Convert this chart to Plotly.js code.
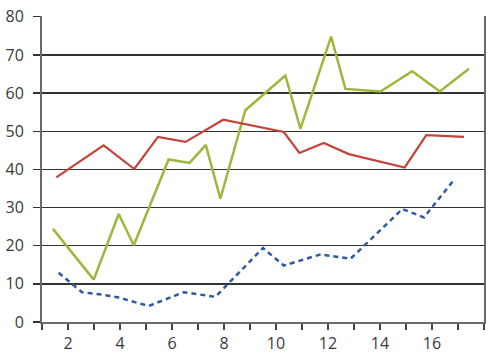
<!DOCTYPE html>
<html>
<head>
<meta charset="utf-8">
<script src="https://cdn.plot.ly/plotly-3.0.1.min.js"></script>
<style>html,body{margin:0;padding:0;background:#fff;}#chart{width:500px;height:360px;}</style>
</head>
<body>
<div id="chart"></div>
<script>
const greenX = [1.42, 2.99, 3.95, 4.53, 5.87, 6.68, 7.30, 7.86, 8.82, 10.36, 10.94, 12.12, 12.67, 14.02, 15.24, 16.3, 17.42];
const greenY = [24.4, 11.1, 28.3, 20.1, 42.6, 41.7, 46.4, 32.3, 55.5, 64.6, 50.7, 74.8, 61.1, 60.4, 65.7, 60.4, 66.4];

const redX = [1.55, 3.37, 4.55, 5.46, 6.52, 7.97, 10.3, 10.9, 11.84, 12.8, 14.95, 15.78, 17.23];
const redY = [37.9, 46.3, 40.1, 48.5, 47.2, 53.0, 49.8, 44.3, 46.9, 44.0, 40.5, 49.0, 48.5];

const blueX = [1.64, 2.54, 3.31, 3.95, 5.10, 6.45, 7.67, 9.5, 10.3, 11.71, 12.87, 14.86, 15.69, 16.84];
const blueY = [12.9, 7.8, 7.2, 6.4, 4.2, 7.8, 6.6, 19.4, 14.8, 17.7, 16.6, 29.6, 27.4, 37.2];

const xTickVals = [1, 2, 3, 4, 5, 6, 7, 8, 9, 10, 11, 12, 13, 14, 15, 16, 17, 18];
const xTickText = ["", "2", "", "4", "", "6", "", "8", "", "10", "", "12", "", "14", "", "16", "", ""];
const yTickVals = [0, 10, 20, 30, 40, 50, 60, 70, 80];
const yTickText = ["0", "10", "20", "30", "40", "50", "60", "70", "80"];

const traces = [
  {x: greenX, y: greenY, mode: 'lines', line: {color: '#9bb83a', width: 2.5}, hoverinfo: 'skip'},
  {x: redX, y: redY, mode: 'lines', line: {color: '#c4433a', width: 2.2}, hoverinfo: 'skip'},
  {x: blueX, y: blueY, mode: 'lines', line: {color: '#2f5b9e', width: 2.5, dash: '5px,4px'}, hoverinfo: 'skip'}
];

const layout = {
  width: 500, height: 360,
  margin: {l: 42, r: 16, t: 16, b: 38},
  showlegend: false,
  paper_bgcolor: '#fff', plot_bgcolor: '#fff',
  font: {family: 'Open Sans, sans-serif', size: 16, color: '#3a3a3a'},
  xaxis: {
    range: [1, 18], tickmode: 'array', tickvals: xTickVals, ticktext: xTickText,
    showgrid: false, zeroline: false, showline: true, linecolor: '#6a6a6a', linewidth: 2,
    ticks: 'outside', ticklen: 6, tickwidth: 1.5, tickcolor: '#444'
  },
  yaxis: {
    range: [0, 80.2], tickmode: 'array', tickvals: yTickVals, ticktext: yTickText,
    showgrid: true, gridcolor: '#333', gridwidth: 1.3, zeroline: false,
    showline: true, mirror: true, linecolor: '#6a6a6a', linewidth: 2,
    ticks: 'outside', ticklen: 7, tickwidth: 1.3, tickcolor: '#333', ticklabelstandoff: 6
  }
};

Plotly.newPlot('chart', traces, layout, {staticPlot: true, displayModeBar: false});
</script>
</body>
</html>
